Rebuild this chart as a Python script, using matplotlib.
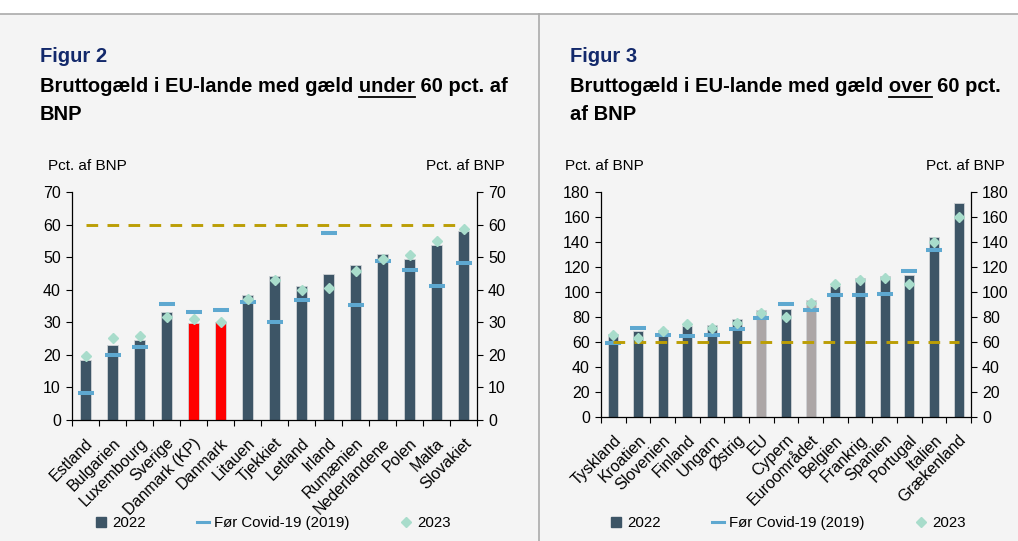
import numpy as np
import matplotlib
matplotlib.use("Agg")
import matplotlib.pyplot as plt
import matplotlib.transforms as mtransforms
from matplotlib.lines import Line2D
from matplotlib.patches import Rectangle

plt.rcParams['font.family'] = ['Liberation Sans', 'DejaVu Sans']

# Figur 2: countries below 60 pct.
under_land = ["Estland", "Bulgarien", "Luxembourg", "Sverige", "Danmark (KP)", "Danmark",
              "Litauen", "Tjekkiet", "Letland", "Irland", "Rumænien", "Nederlandene",
              "Polen", "Malta", "Slovakiet"]
under_2022 = [18.4, 23.0, 24.6, 33.1, 29.8, 30.1, 38.5, 44.3, 41.0, 44.8, 47.5, 51.1, 49.3, 53.6, 58.1]
under_2019 = [8.4, 20.1, 22.5, 35.5, 33.3, 33.9, 36.1, 30.2, 36.7, 57.3, 35.2, 48.7, 45.9, 41.0, 48.1]
under_2023 = [19.6, 25.1, 25.9, 31.5, 31.1, 30.2, 37.1, 42.9, 39.9, 40.5, 45.7, 49.5, 50.7, 55.1, 58.6]

# Figur 3: countries above 60 pct.
over_land = ["Tyskland", "Kroatien", "Slovenien", "Finland", "Ungarn", "Østrig", "EU",
             "Cypern", "Euroområdet", "Belgien", "Frankrig", "Spanien", "Portugal",
             "Italien", "Grækenland"]
over_2022 = [66.3, 68.7, 69.8, 73.0, 73.5, 78.4, 85.6, 86.4, 93.3, 105.1, 111.5, 113.1, 113.9, 144.2, 171.4]
over_2019 = [59.4, 71.4, 65.8, 65.0, 65.8, 70.6, 79.4, 90.7, 85.9, 97.9, 97.9, 98.7, 117.1, 134.0, np.nan]
over_2023 = [65.3, 63.1, 69.0, 74.1, 70.9, 75.4, 83.4, 80.2, 91.2, 106.2, 109.9, 111.0, 106.2, 139.9, 160.2]

GRAENSE = 60

BG = '#f4f4f4'
BAR = '#3d5566'
RED = '#ff0000'
GREY = '#aca6a6'
DASH = '#5ea8d0'
DIAM = '#a8dccb'
GOLD = '#bb9e05'
NAVY = '#13296b'

W, H = 1018, 541
fig = plt.figure(figsize=(W / 100, H / 100), dpi=100, facecolor=BG)


def fx(x):
    return x / W


def fy(y):
    return 1 - y / H


# white top strip and frame lines
fig.patches.append(Rectangle((0, fy(14)), 1, 14 / H, transform=fig.transFigure,
                             facecolor='white', edgecolor='none', zorder=0))
fig.lines.append(Line2D([0, 1], [fy(14), fy(14)], transform=fig.transFigure, color='#aaaaaa', lw=1.2))
fig.lines.append(Line2D([fx(539), fx(539)], [0, fy(14)], transform=fig.transFigure, color='#aaaaaa', lw=1.2))

TFS = 14.5


def title(x0, fig_no, prefix, under_word, rest, line2):
    fig.text(fx(x0), fy(57), fig_no, color=NAVY, fontsize=TFS, fontweight='bold', va='center')
    fig.text(fx(x0), fy(87), prefix + under_word + rest, fontsize=TFS, fontweight='bold', va='center')
    fig.text(fx(x0), fy(114), line2, fontsize=TFS, fontweight='bold', va='center')
    r = fig.canvas.get_renderer()
    probe = fig.text(0, 0, prefix + under_word, fontsize=TFS, fontweight='bold')
    w_full = probe.get_window_extent(r).width
    probe.set_text(under_word)
    w_word = probe.get_window_extent(r).width
    probe.remove()
    x_end = x0 + w_full
    x_start = x_end - w_word
    fig.lines.append(Line2D([fx(x_start), fx(x_end)], [fy(97), fy(97)],
                            transform=fig.transFigure, color='black', lw=1.3))


def panel(rect, lande, v22, v19, v23, farver, ymax, ystep, bw, pct_left, pct_right, leg_x):
    ax = fig.add_axes(rect)
    ax.set_facecolor('none')
    x = np.arange(len(lande))
    ax.bar(x, v22, width=bw, color=farver, edgecolor='#cfd3d6', linewidth=0.6, zorder=2)
    ax.plot(x, v19, ls='none', marker='_', ms=11.5, mew=2.9, color=DASH, zorder=3)
    ax.plot(x, v23, ls='none', marker='D', ms=5.2, color=DIAM, zorder=4)
    ax.plot([x[0], x[-1]], [GRAENSE, GRAENSE], color=GOLD, lw=2.1, dashes=(4, 3.2), zorder=3)

    ax.set_xlim(-0.5, len(lande) - 0.5)
    ax.set_ylim(0, ymax)
    ax.set_yticks(np.arange(0, ymax + 1, ystep))
    ax.set_xticks(x)
    ax.set_xticklabels(lande, rotation=45, ha='right', rotation_mode='anchor', fontsize=11.5)
    shift = mtransforms.ScaledTranslation(-3 / 100, 0, fig.dpi_scale_trans)
    for lbl in ax.get_xticklabels():
        lbl.set_transform(lbl.get_transform() + shift)
    ax.set_xticks(np.arange(-0.5, len(lande), 1), minor=True)
    ax.tick_params(axis='x', which='major', length=0, pad=11)
    ax.tick_params(axis='x', which='minor', length=4, direction='out', width=0.8)
    ax.tick_params(axis='y', which='major', length=4, width=0.8, direction='out',
                   left=True, right=True, labelleft=True, labelright=True, labelsize=11.5, pad=4)
    ax.spines['top'].set_visible(False)
    for s in ['left', 'right', 'bottom']:
        ax.spines[s].set_linewidth(0.9)

    fig.text(fx(pct_left), fy(166), "Pct. af BNP", fontsize=11, va='center', ha='left')
    fig.text(fx(pct_right), fy(166), "Pct. af BNP", fontsize=11, va='center', ha='right')

    handles = [Line2D([], [], ls='none', marker='s', ms=7, color=BAR),
               Line2D([], [], color=DASH, lw=2.2),
               Line2D([], [], ls='none', marker='D', ms=5, color=DIAM)]
    fig.legend(handles, ["2022", "Før Covid-19 (2019)", "2023"], ncol=3, loc='center',
               bbox_to_anchor=(fx(leg_x), fy(523)), frameon=False, fontsize=10.8,
               handlelength=0.8, handletextpad=0.35, columnspacing=3.4)
    return ax


farver_u = [BAR] * len(under_land)
farver_u[4] = RED
farver_u[5] = RED
farver_o = [BAR] * len(over_land)
farver_o[6] = GREY
farver_o[8] = GREY

title(40, "Figur 2", "Bruttogæld i EU-lande med gæld ", "under", " 60 pct. af", "BNP")
title(570, "Figur 3", "Bruttogæld i EU-lande med gæld ", "over", " 60 pct.", "af BNP")

panel([fx(72), fy(420), 405 / W, 228 / H], under_land, under_2022, under_2019, under_2023,
      farver_u, 70, 10, 0.42, 48, 505, 273)
panel([fx(601), fy(417), 370 / W, 225 / H], over_land, over_2022, over_2019, over_2023,
      farver_o, 180, 20, 0.4, 565, 1005, 788)

fig.savefig("out.png", dpi=100, facecolor=BG)
